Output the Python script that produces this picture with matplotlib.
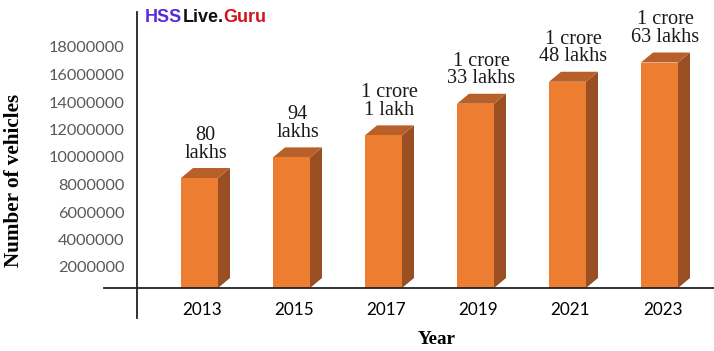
import matplotlib
matplotlib.use("Agg")
import matplotlib.pyplot as plt
from matplotlib.patches import Polygon

years = ["2013", "2015", "2017", "2019", "2021", "2023"]
values = [8000000, 9500000, 11100000, 13400000, 15000000, 16400000]
labels = ["80\nlakhs", "94\nlakhs", "1 crore\n1 lakh", "1 crore\n33 lakhs",
          "1 crore\n48 lakhs", "1 crore\n63 lakhs"]
yticks = [2000000, 4000000, 6000000, 8000000, 10000000, 12000000,
          14000000, 16000000, 18000000]

W, H = 714, 351
fig = plt.figure(figsize=(W / 100, H / 100), dpi=100)

# axes in pixel layout
ax_l, ax_r, ax_t, ax_b = 137, 714, 12, 318
ax = fig.add_axes([ax_l / W, 1 - ax_b / H, (ax_r - ax_l) / W, (ax_b - ax_t) / H])

px_per_unit_x = 92.0
px_per_val = 13.75e-6  # px per vehicle
zero_px = 294.5
x0 = -(199.5 - ax_l) / px_per_unit_x
x1 = (ax_r - 199.5) / px_per_unit_x
ytop = (zero_px - ax_t) / px_per_val
ybot = (zero_px - ax_b) / px_per_val
ax.set_xlim(x0, x1)
ax.set_ylim(ybot, ytop)

floor = (zero_px - 288) / px_per_val
width = 37 / px_per_unit_x
dx = 12 / px_per_unit_x
dy = 10 / px_per_val

front_c = "#ED7D31"
top_c = "#B8602A"
side_c = "#9A4F22"

xs = list(range(len(years)))
bars = ax.bar(xs, values, width=width, bottom=floor, color=front_c, zorder=3)
for b in bars:
    xl = b.get_x()
    xr = xl + b.get_width()
    yb = b.get_y()
    yt = yb + b.get_height()
    side = Polygon([(xr, yb), (xr + dx, yb + dy), (xr + dx, yt + dy), (xr, yt)],
                   closed=True, facecolor=side_c, edgecolor="none", zorder=2)
    top = Polygon([(xl, yt), (xl + dx, yt + dy), (xr + dx, yt + dy), (xr, yt)],
                  closed=True, facecolor=top_c, edgecolor="none", zorder=2)
    ax.add_patch(side)
    ax.add_patch(top)

for x, v, lab in zip(xs, values, labels):
    ax.annotate(lab, (x + dx / 2, floor + v), xytext=(0, 11),
                textcoords="offset points", ha="center", va="bottom",
                fontsize=14.6, family="Liberation Serif", color="#1a1a1a",
                linespacing=0.92)

ax.set_yticks(yticks)
ax.set_yticklabels([str(t) for t in yticks], family="Lato", fontsize=11.8,
                   color="#595959")
ax.set_xticks([x + dx / 4 for x in xs])
ax.set_xticklabels(years, family="Lato", fontsize=12.3, color="black")
ax.tick_params(axis="y", length=0, pad=9)
ax.tick_params(axis="x", length=0, pad=-11.5)

for s in ["top", "right", "bottom"]:
    ax.spines[s].set_visible(False)
ax.spines["left"].set_color("#222222")
ax.spines["left"].set_linewidth(1.3)
ax.axhline(floor, xmin=(104 - ax_l) / (ax_r - ax_l), xmax=1, color="#222222",
           lw=1.3, clip_on=False, zorder=4)

fig.text(14 / W, 1 - 180 / H, "Number of vehicles", rotation=90, ha="center",
         va="center", family="Liberation Serif", fontweight="bold", fontsize=15.2)
fig.text(437 / W, 1 - 339 / H, "Year", ha="center", va="center",
         family="Liberation Serif", fontweight="bold", fontsize=13.8)

# watermark
t1 = fig.text(145 / W, 1 - 18 / H, "HSS", ha="left", va="center",
              family="Liberation Sans", fontweight="bold", fontsize=13,
              color="#5B2BD9")
fig.canvas.draw()
r = fig.canvas.get_renderer()
bb = t1.get_window_extent(r)
t2 = fig.text(bb.x1 / W, 1 - 18 / H, "Live.", ha="left", va="center",
              family="Liberation Sans", fontweight="bold", fontsize=13,
              color="#111111")
bb2 = t2.get_window_extent(r)
fig.text(bb2.x1 / W, 1 - 18 / H, "Guru", ha="left", va="center",
         family="Liberation Sans", fontweight="bold", fontsize=13,
         color="#D0141E")

fig.savefig("out.png", dpi=100)
